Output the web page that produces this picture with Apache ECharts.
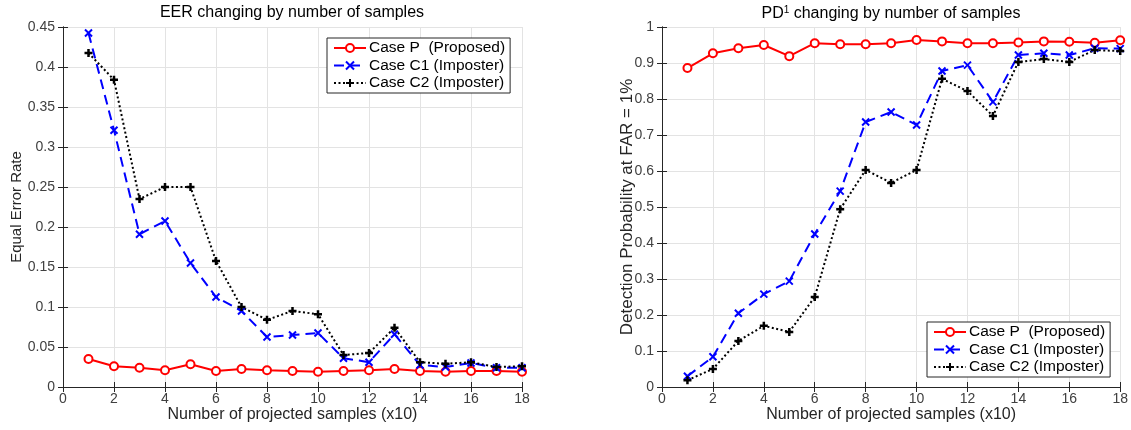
<!DOCTYPE html>
<html><head><meta charset="utf-8">
<script src="https://cdn.jsdelivr.net/npm/echarts@6/dist/echarts.min.js"></script>
<style>html,body{margin:0;padding:0;background:#fff}#c{width:1131px;height:430px}</style>
</head><body><div id="c"></div>
<script>
const xs = [1,2,3,4,5,6,7,8,9,10,11,12,13,14,15,16,17,18];
const eerP  = [0.035,0.026,0.024,0.021,0.0285,0.020,0.0225,0.021,0.020,0.019,0.020,0.021,0.0225,0.020,0.019,0.020,0.020,0.019];
const eerC1 = [0.4425,0.321,0.191,0.2075,0.155,0.1125,0.095,0.0625,0.065,0.0675,0.036,0.031,0.066,0.0275,0.025,0.030,0.024,0.024];
const eerC2 = [0.4175,0.384,0.235,0.250,0.250,0.1575,0.100,0.084,0.095,0.091,0.040,0.0425,0.074,0.031,0.029,0.031,0.025,0.026];
const pdP  = [0.886,0.927,0.941,0.950,0.919,0.955,0.952,0.952,0.955,0.964,0.960,0.955,0.955,0.957,0.960,0.959,0.956,0.963];
const pdC1 = [0.030,0.084,0.205,0.258,0.294,0.425,0.544,0.736,0.764,0.728,0.878,0.894,0.792,0.922,0.927,0.922,0.941,0.940];
const pdC2 = [0.019,0.050,0.128,0.170,0.153,0.250,0.494,0.603,0.567,0.603,0.856,0.822,0.753,0.903,0.911,0.903,0.936,0.933];
const names = ['Case P  (Proposed)','Case C1 (Imposter)','Case C2 (Imposter)'];
const titles = ['EER changing by number of samples', 'PD{sup|1} changing by number of samples'];
const xName = 'Number of projected samples (x10)';
const yNames = ['Equal Error Rate', 'Detection Probability at FAR = 1%'];

const FONT = '"Liberation Sans", Arial, Helvetica, sans-serif';
const zip = a => xs.map((x,i)=>[x,a[i]]);
const X_SYM = 'path://M0,0L10,10M10,0L0,10';
const PLUS_SYM = 'path://M5,0L5,10M0,5L10,5';

function mkSeries(idx, p, c1, c2){
  return [
    {name:names[0], type:'line', xAxisIndex:idx, yAxisIndex:idx, data:zip(p),
     symbol:'emptyCircle', symbolSize:8,
     lineStyle:{color:'#ff0000', width:2, type:'solid'},
     itemStyle:{color:'#ff0000', borderColor:'#ff0000', borderWidth:1.5}},
    {name:names[1], type:'line', xAxisIndex:idx, yAxisIndex:idx, data:zip(c1),
     symbol:X_SYM, symbolSize:7,
     lineStyle:{color:'#0000ff', width:2, type:[10,6]},
     itemStyle:{color:'#0000ff', borderColor:'#0000ff', borderWidth:2}},
    {name:names[2], type:'line', xAxisIndex:idx, yAxisIndex:idx, data:zip(c2),
     symbol:PLUS_SYM, symbolSize:8,
     lineStyle:{color:'#000000', width:2, type:[2,2.5]},
     itemStyle:{color:'#000000', borderColor:'#000000', borderWidth:2.5}}
  ];
}

const tickLabel = {color:'#404040', fontFamily:FONT, fontSize:14};
const lineCol = '#262626';
function xAxis(gi){
  return {type:'value', gridIndex:gi, min:0, max:18, interval:2,
    name:xName, nameLocation:'middle', nameGap:20, nameMoveOverlap:false,
    nameTextStyle:{color:'#262626', fontFamily:FONT, fontSize:16},
    axisLine:{show:true, lineStyle:{color:lineCol, width:1}},
    axisTick:{show:true, inside:true, length:5, lineStyle:{color:lineCol}},
    axisLabel:Object.assign({margin:5}, tickLabel),
    splitLine:{show:true, lineStyle:{color:'#e3e3e3', width:1}}};
}
function xAxisTop(gi){
  return {type:'value', gridIndex:gi, position:'top', min:0, max:18, interval:2,
    axisLine:{show:true, lineStyle:{color:lineCol, width:1}},
    axisTick:{show:true, inside:true, length:5, lineStyle:{color:lineCol}},
    axisLabel:{show:false}, splitLine:{show:false}};
}
function yAxis(gi, max, interval, name, gap, fs){
  return {type:'value', gridIndex:gi, min:0, max:max, interval:interval,
    name:name, nameLocation:'middle', nameGap:gap, nameMoveOverlap:false,
    nameTextStyle:{color:'#262626', fontFamily:FONT, fontSize:fs},
    axisLine:{show:true, lineStyle:{color:lineCol, width:1}},
    axisTick:{show:true, inside:true, length:5, lineStyle:{color:lineCol}},
    axisLabel:Object.assign({margin:8, formatter: v => String(+v.toFixed(2))}, tickLabel),
    splitLine:{show:true, lineStyle:{color:'#e3e3e3', width:1}}};
}
function yAxisRight(gi, max, interval){
  return {type:'value', gridIndex:gi, position:'right', min:0, max:max, interval:interval,
    axisLine:{show:true, lineStyle:{color:lineCol, width:1}},
    axisTick:{show:true, inside:true, length:5, lineStyle:{color:lineCol}},
    axisLabel:{show:false}, splitLine:{show:false}};
}
function legend(left, top){
  return {data:names, left:left, top:top, orient:'vertical', itemGap:1.5, itemWidth:32, itemHeight:10,
    padding:[2,5,2,6], borderColor:'#262626', borderWidth:1, backgroundColor:'#fff',
    textStyle:{fontFamily:FONT, fontSize:15.5, color:'#000', padding:[0,0,0,-2]}};
}

const chart = echarts.init(document.getElementById('c'), null, {renderer:'canvas'});
chart.setOption({
  animation:false,
  backgroundColor:'#ffffff',
  title:[
    {text:titles[0], left:292, top:5, padding:0, textAlign:'center',
     textStyle:{fontFamily:FONT, fontSize:16, fontWeight:'normal', color:'#000'}},
    {text:titles[1], left:891, top:5, padding:0, textAlign:'center',
     textStyle:{fontFamily:FONT, fontSize:16, fontWeight:'normal', color:'#000',
       rich:{sup:{fontSize:10, verticalAlign:'top', padding:[0,0,8,0], fontFamily:FONT, color:'#000'}}}}
  ],
  legend:[legend(327, 38), legend(927, 322)],
  grid:[
    {left:63, top:27, width:459, height:360},
    {left:662, top:27, width:459, height:360}
  ],
  xAxis:[xAxis(0), xAxis(1), xAxisTop(0), xAxisTop(1)],
  yAxis:[
    yAxis(0, 0.45, 0.05, yNames[0], 39, 15),
    yAxis(1, 1, 0.1, yNames[1], 26, 17),
    yAxisRight(0, 0.45, 0.05),
    yAxisRight(1, 1, 0.1)
  ],
  series:[...mkSeries(0, eerP, eerC1, eerC2), ...mkSeries(1, pdP, pdC1, pdC2)]
});
</script></body></html>
